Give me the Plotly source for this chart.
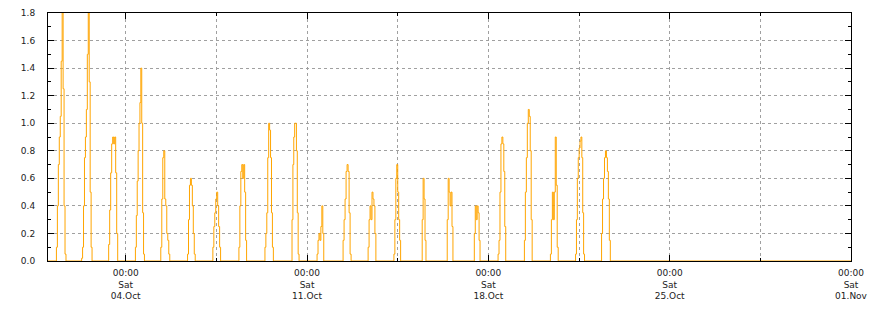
import plotly.graph_objects as go
import pandas as pd

# ---- data ----
day_dates = ["2025-10-01", "2025-10-02", "2025-10-03", "2025-10-04", "2025-10-05",
             "2025-10-06", "2025-10-07", "2025-10-08", "2025-10-09", "2025-10-10",
             "2025-10-11", "2025-10-12", "2025-10-13", "2025-10-14", "2025-10-15",
             "2025-10-16", "2025-10-17", "2025-10-18", "2025-10-19", "2025-10-20",
             "2025-10-21", "2025-10-22"]
day_start = ["07:48", "07:10", "08:13", "09:00", "08:30", "09:18", "08:45", "08:53",
             "09:00", "10:06", "09:18", "09:24", "08:36", "08:30", "10:42", "09:54",
             "11:00", "09:00", "09:24", "09:30", "08:48", "08:54"]
day_end = ["16:40", "16:49", "16:34", "17:22", "16:50", "16:25", "15:54", "16:00",
           "16:48", "16:36", "15:30", "16:50", "15:48", "14:42", "14:12", "15:12",
           "16:18", "16:06", "16:36", "16:42", "17:06", "17:00"]
day_values = [
    [0.10, 0.40, 0.70, 0.90, 1.05, 1.45, 1.95, 1.25, 0.40, 0.05],
    [0.02, 0.10, 0.40, 0.75, 0.90, 1.10, 1.50, 2.10, 1.30, 0.50, 0.10],
    [0.12, 0.37, 0.64, 0.85, 0.90, 0.85, 0.90, 0.64, 0.20],
    [0.10, 0.33, 0.58, 0.80, 1.00, 1.15, 1.40, 1.00, 0.35, 0.05],
    [0.10, 0.45, 0.75, 0.80, 0.45, 0.40, 0.20, 0.15, 0.05],
    [0.05, 0.30, 0.55, 0.60, 0.55, 0.40, 0.20, 0.05],
    [0.10, 0.25, 0.35, 0.45, 0.50, 0.40, 0.25, 0.10],
    [0.10, 0.40, 0.65, 0.70, 0.60, 0.70, 0.50, 0.15],
    [0.10, 0.20, 0.35, 0.75, 1.00, 0.95, 0.75, 0.35, 0.10],
    [0.30, 0.70, 0.90, 1.00, 1.00, 0.80, 0.35, 0.05],
    [0.05, 0.15, 0.20, 0.15, 0.25, 0.40, 0.20],
    [0.15, 0.30, 0.45, 0.65, 0.70, 0.65, 0.35, 0.05],
    [0.10, 0.30, 0.40, 0.30, 0.50, 0.45, 0.40, 0.20],
    [0.05, 0.30, 0.60, 0.70, 0.50, 0.30, 0.15],
    [0.30, 0.60, 0.45, 0.15],
    [0.30, 0.60, 0.50, 0.40, 0.50, 0.25],
    [0.20, 0.40, 0.30, 0.40, 0.35, 0.15],
    [0.05, 0.15, 0.50, 0.85, 0.90, 0.85, 0.65, 0.25],
    [0.15, 0.50, 0.75, 1.00, 1.10, 1.05, 0.80, 0.30],
    [0.05, 0.30, 0.50, 0.30, 0.50, 0.90, 0.55, 0.10],
    [0.05, 0.30, 0.60, 0.75, 0.82, 0.87, 0.90, 0.75, 0.35, 0.05],
    [0.20, 0.45, 0.60, 0.75, 0.80, 0.75, 0.65, 0.45, 0.15],
]

x_range = ["2025-10-01 00:00", "2025-11-01 00:00"]
x_tick_vals = ["2025-10-04", "2025-10-11", "2025-10-18", "2025-10-25", "2025-11-01"]
x_tick_text = ["00:00<br>Sat<br>04.Oct", "00:00<br>Sat<br>11.Oct", "00:00<br>Sat<br>18.Oct",
               "00:00<br>Sat<br>25.Oct", "00:00<br>Sat<br>01.Nov"]
x_minor_vals = ["2025-10-07 12:00", "2025-10-14 12:00", "2025-10-21 12:00", "2025-10-28 12:00"]
y_tick_vals = [0.0, 0.2, 0.4, 0.6, 0.8, 1.0, 1.2, 1.4, 1.6, 1.8]
y_tick_text = ["0.0", "0.2", "0.4", "0.6", "0.8", "1.0", "1.2", "1.4", "1.6", "1.8"]

# ---- build the stepped series ----
xs = [pd.Timestamp(x_range[0])]
ys = [0.0]
for d, s, e, vals in zip(day_dates, day_start, day_end, day_values):
    t0 = pd.Timestamp(f"{d} {s}")
    t1 = pd.Timestamp(f"{d} {e}")
    step = (t1 - t0) / len(vals)
    for i, v in enumerate(vals):
        xs.append(t0 + i * step)
        ys.append(v)
    xs.append(t1)
    ys.append(0.0)
xs.append(pd.Timestamp(x_range[1]))
ys.append(0.0)

fig = go.Figure()
fig.add_trace(go.Scatter(x=xs, y=ys, mode="lines", line_shape="hv",
                         line=dict(color="#FFA500", width=1), showlegend=False,
                         hoverinfo="skip"))

grid_color = "#a0a0a0"
font = dict(family="DejaVu Sans", size=9, color="#222222")

fig.update_layout(
    width=870, height=310,
    margin=dict(l=48, r=19, t=13, b=49, autoexpand=False),
    paper_bgcolor="white", plot_bgcolor="white",
    font=font,
    xaxis=dict(
        type="date", range=x_range, automargin=False,
        tickmode="array", tickvals=x_tick_vals, ticktext=x_tick_text,
        ticks="inside", ticklen=6, tickcolor="black", tickwidth=1,
        showline=True, linecolor="black", linewidth=1, mirror="allticks",
        showgrid=True, gridcolor=grid_color, griddash="3px,3px", gridwidth=1,
        zeroline=False, ticklabelstandoff=3,
        minor=dict(tickmode="array", tickvals=x_minor_vals, ticks="inside", ticklen=3,
                   tickcolor="black", showgrid=True, gridcolor=grid_color,
                   griddash="3px,3px", gridwidth=1),
        fixedrange=True,
    ),
    yaxis=dict(
        range=[0, 1.8], automargin=False,
        tickmode="array", tickvals=y_tick_vals, ticktext=y_tick_text,
        ticks="inside", ticklen=6, tickcolor="black", tickwidth=1,
        showline=True, linecolor="black", linewidth=1, mirror="allticks",
        showgrid=True, gridcolor=grid_color, griddash="3px,3px", gridwidth=1,
        zeroline=False, ticklabelstandoff=10,
        minor=dict(dtick=0.1, tick0=0, ticks="inside", ticklen=3, tickcolor="black",
                   showgrid=False),
        fixedrange=True,
    ),
)

fig.write_html("out.html")
